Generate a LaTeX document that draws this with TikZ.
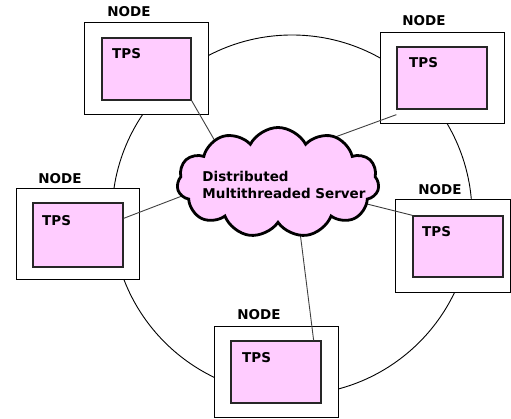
\documentclass[tikz,border=0pt]{standalone}
\usepackage{fontspec}
\setmainfont{DejaVu Sans}
\usetikzlibrary{shapes.symbols}
\definecolor{tpspink}{HTML}{FFCCFF}
\begin{document}
\begin{tikzpicture}[x=1pt,y=-1pt,
  font=\fontsize{13.5}{15}\selectfont\bfseries,
  outerbox/.style={draw=black,line width=0.9pt,fill=white,inner sep=0pt},
  tpsbox/.style={draw=black!85,line width=1.3pt,fill=tpspink,inner sep=0pt},
  caption/.style={inner sep=0pt,anchor=center},
  tpslabel/.style={inner sep=0pt,anchor=west},
  link/.style={draw=black!75,line width=0.9pt}]
\useasboundingbox (0,0) rectangle (511,419);

% ring joining the nodes
\draw[line width=0.9pt] (292,215) circle[radius=180];

% outer node boxes
\node[outerbox,minimum width=124,minimum height=92] (n1) at (146,68) {};
\node[outerbox,minimum width=124,minimum height=91] (n2) at (442,77.5) {};
\node[outerbox,minimum width=123,minimum height=91] (n3) at (77.5,233.5) {};
\node[outerbox,minimum width=115,minimum height=93] (n4) at (452.5,245.5) {};
\node[outerbox,minimum width=124,minimum height=91] (n5) at (276,371.5) {};

% node captions
\node[caption] (l1) at (129,12) {NODE};
\node[caption] (l2) at (424,21) {NODE};
\node[caption] (l3) at (60,179) {NODE};
\node[caption] (l4) at (440,190) {NODE};
\node[caption] (l5) at (259,315) {NODE};

% ends of the links inside the cloud
\coordinate (c1) at (219,148);
\coordinate (c2) at (327,140);
\coordinate (c3) at (182,196);
\coordinate (c4) at (367,204);
\coordinate (c5) at (300,232);

% inner TPS boxes
\node[tpsbox,minimum width=89,minimum height=62] (t1) at (146.5,69) {};
\node[tpsbox,minimum width=90,minimum height=62] (t2) at (442,78) {};
\node[tpsbox,minimum width=90,minimum height=64] (t3) at (78,235) {};
\node[tpsbox,minimum width=90,minimum height=61] (t4) at (458,246.5) {};
\node[tpsbox,minimum width=90,minimum height=62] (t5) at (276,372) {};

% links from each TPS to the server
\draw[link] (t1.south east) -- (c1);
\draw[link] ([yshift=-5]t2.south west) -- (c2);
\draw[link] ([yshift=-16]t3.north east) -- (c3);
\draw[link] (t4.north west) -- (c4);
\draw[link] ([xshift=-8]t5.north east) -- (c5);

% TPS labels
\node[tpslabel] (p1) at (112,54) {TPS};
\node[tpslabel] (p2) at (409,63) {TPS};
\node[tpslabel] (p3) at (42,221) {TPS};
\node[tpslabel] (p4) at (422,232) {TPS};
\node[tpslabel] (p5) at (242,358) {TPS};

% the server cloud
\node[cloud,cloud puffs=11,cloud puff arc=125,cloud ignores aspect,
      minimum width=202,minimum height=110,draw=black,line width=2.8pt,
      fill=tpspink] (srv) at (278,182.5) {};
\node[inner sep=0pt,align=left,font=\fontsize{13.5}{15}\selectfont\bfseries]
  (srvtext) at (284,184.5) {Distributed\\[2pt]Multithreaded Server};
\end{tikzpicture}
\end{document}
